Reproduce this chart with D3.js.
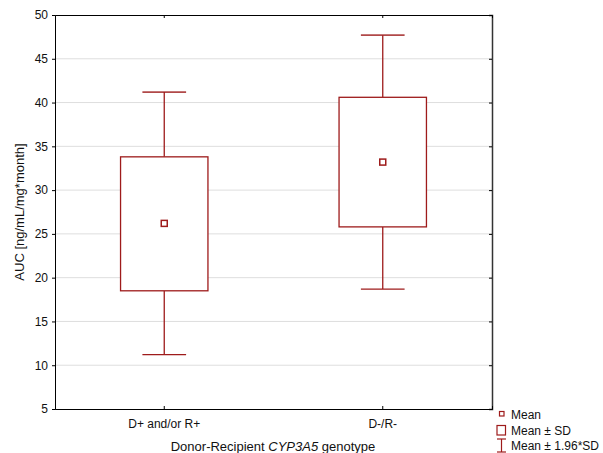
<!DOCTYPE html>
<html><head><meta charset="utf-8">
<script src="https://cdn.jsdelivr.net/npm/d3@7"></script>
<style>body{margin:0;background:#fff}svg{display:block;font-family:"Liberation Sans",Arial,sans-serif}</style>
</head><body><svg id="c" width="603" height="453"></svg>
<script>
const categories = ["D+ and/or R+", "D-/R-"];
const means = [26.2, 33.2];
const sdLow = [18.5, 25.8];
const sdHigh = [33.8, 40.6];
const ciLow = [11.2, 18.7];
const ciHigh = [41.2, 47.7];
const yTicks = [5, 10, 15, 20, 25, 30, 35, 40, 45, 50];

const col = "#9e1b1b";
const svg = d3.select("#c");
const L = 55, R = 492, T = 15, B = 409;
const x = d3.scaleBand().domain(categories).range([L, R]);
const y = d3.scaleLinear().domain([5, 50]).range([B, T]);

// grid
svg.append("g").selectAll("line").data(yTicks.filter(d => d > 5 && d < 50)).join("line")
  .attr("x1", L).attr("x2", R).attr("y1", d => y(d)).attr("y2", d => y(d))
  .attr("stroke", "#dedede").attr("stroke-width", 1);

// axes
const ax = svg.append("g").attr("transform", `translate(${L},0)`)
  .call(d3.axisLeft(y).tickValues(yTicks).tickSize(3).tickPadding(4));
ax.select(".domain").attr("stroke", "#000");
ax.selectAll("text").attr("font-size", 12).attr("fill", "#111").attr("font-family", "Liberation Sans, Arial, sans-serif");

const axr = svg.append("g").attr("transform", `translate(${R},0)`)
  .call(d3.axisLeft(y).tickValues(yTicks).tickSize(3).tickFormat(""));
axr.select(".domain").attr("stroke", "#333").attr("stroke-width", 1.5);

const axb = svg.append("g").attr("transform", `translate(0,${B})`)
  .call(d3.axisTop(x).tickSize(3).tickFormat(""));
axb.select(".domain").attr("stroke", "#000");
svg.append("g").attr("transform", `translate(0,${B})`)
  .call(d3.axisBottom(x).tickSize(0).tickPadding(10))
  .call(g => g.select(".domain").remove())
  .selectAll("text").attr("font-size", 12).attr("fill", "#111").attr("font-family", "Liberation Sans, Arial, sans-serif");

const axt = svg.append("g").attr("transform", `translate(0,${T})`)
  .call(d3.axisBottom(x).tickSize(3).tickFormat(""));
axt.select(".domain").attr("stroke", "#000");

// boxes
const bw = x.bandwidth() * 0.4, cw = bw / 2;
const g = svg.append("g").attr("fill", "none").attr("stroke", col).attr("stroke-width", 1.3);
categories.forEach((c, i) => {
  const cx = x(c) + x.bandwidth() / 2;
  g.append("line").attr("x1", cx).attr("x2", cx).attr("y1", y(ciHigh[i])).attr("y2", y(sdHigh[i]));
  g.append("line").attr("x1", cx).attr("x2", cx).attr("y1", y(sdLow[i])).attr("y2", y(ciLow[i]));
  g.append("line").attr("x1", cx - cw / 2).attr("x2", cx + cw / 2).attr("y1", y(ciHigh[i])).attr("y2", y(ciHigh[i])).attr("stroke-width", 1.8).attr("stroke-opacity", 0.8);
  g.append("line").attr("x1", cx - cw / 2).attr("x2", cx + cw / 2).attr("y1", y(ciLow[i])).attr("y2", y(ciLow[i]));
  g.append("rect").attr("x", cx - bw / 2).attr("width", bw).attr("y", y(sdHigh[i])).attr("height", y(sdLow[i]) - y(sdHigh[i])).attr("fill", "#fff");
  g.append("rect").attr("x", cx - 3).attr("y", y(means[i]) - 3).attr("width", 6).attr("height", 6).attr("stroke-width", 1.5);
});

// axis titles
svg.append("text").attr("transform", `translate(24,${(T + B) / 2}) rotate(-90)`).attr("text-anchor", "middle")
  .attr("font-size", 13).attr("fill", "#111").text("AUC [ng/mL/mg*month]");
const xt = svg.append("text").attr("x", 273).attr("y", 451).attr("text-anchor", "middle").attr("font-size", 13).attr("fill", "#111");
xt.append("tspan").text("Donor-Recipient ");
xt.append("tspan").attr("font-style", "italic").text("CYP3A5");
xt.append("tspan").text(" genotype");

// legend
const lg = svg.append("g").attr("font-size", 12).attr("fill", "#111");
lg.append("rect").attr("x", 499.5).attr("y", 411.5).attr("width", 4.5).attr("height", 4.5).attr("fill", "none").attr("stroke", col).attr("stroke-width", 1.2);
lg.append("rect").attr("x", 497).attr("y", 425.5).attr("width", 8.5).attr("height", 9.5).attr("fill", "none").attr("stroke", col).attr("stroke-width", 1.2);
lg.append("line").attr("x1", 501.5).attr("x2", 501.5).attr("y1", 439).attr("y2", 452).attr("stroke", col).attr("stroke-width", 1.2);
lg.append("line").attr("x1", 497).attr("x2", 506).attr("y1", 439).attr("y2", 439).attr("stroke", col).attr("stroke-width", 1.2);
lg.append("line").attr("x1", 497).attr("x2", 506).attr("y1", 452).attr("y2", 452).attr("stroke", col).attr("stroke-width", 1.2);
[["Mean", 419], ["Mean ± SD", 435], ["Mean ± 1.96*SD", 450]].forEach(([t, yy]) =>
  lg.append("text").attr("x", 511).attr("y", yy).text(t));
</script></body></html>
